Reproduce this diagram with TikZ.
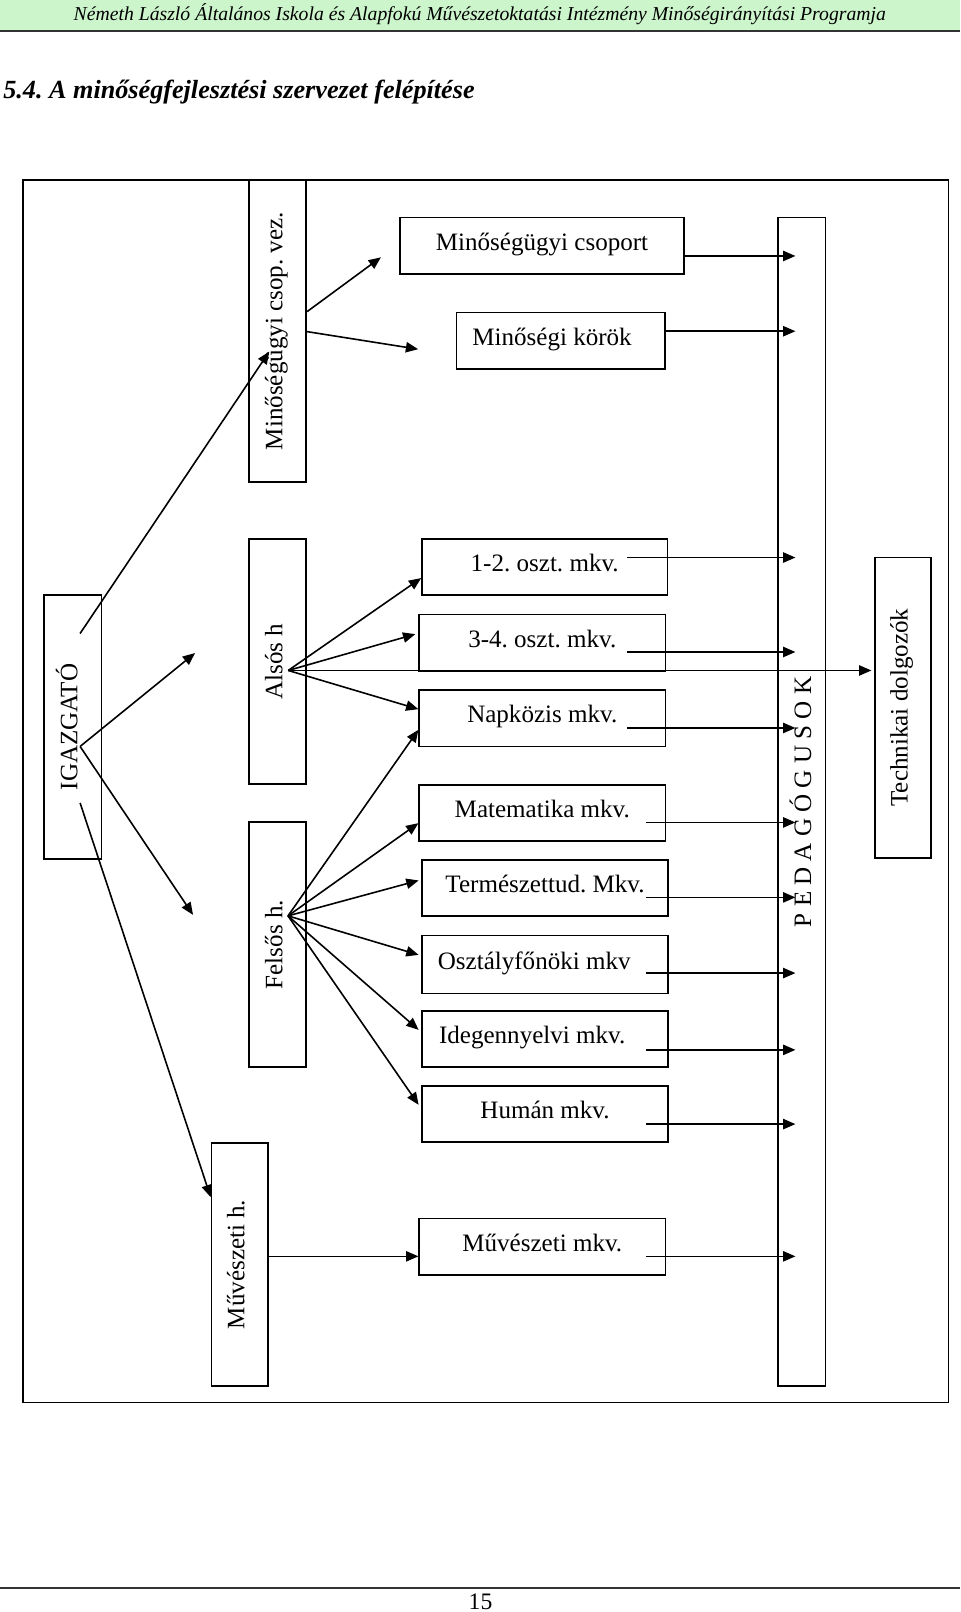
\documentclass[tikz,border=0pt]{standalone}
\usepackage{fontspec}
\setmainfont{Liberation Serif}
\usetikzlibrary{arrows.meta,calc}
\definecolor{hdrgreen}{RGB}{204,245,204}
\frenchspacing
\begin{document}
\begin{tikzpicture}[x=1pt,y=-1pt,
  box/.style={draw, line width=1.6pt, inner sep=0pt, text height=16pt, text depth=7pt, font=\fontsize{24.4}{29}\selectfont},
  vbox/.style={box, rotate=90},
  arr/.style={line width=1.55pt, -{Triangle[length=12pt,width=10pt]}},
  rule/.style={line width=1.8pt, black!80}
]
\useasboundingbox (0,0) rectangle (935,1570);
\fill[white] (0,0) rectangle (935,1570);

% header and footer
\fill[hdrgreen] (0,0) rectangle (935,29);
\draw[rule] (0,29.8) -- (935,29.8);
\node[anchor=base, inner sep=0pt] (hdr) at (467.3,20) {\resizebox{791pt}{!}{\itshape Németh László Általános Iskola és Alapfokú Művészetoktatási Intézmény Minőségirányítási Programja}};
\node[anchor=base west, inner sep=0pt] (title) at (3,96.4) {\resizebox{459pt}{!}{\bfseries\itshape 5.4. A minőségfejlesztési szervezet felépítése}};
\draw[rule] (0,1546.6) -- (935,1546.6);
\node[anchor=base, inner sep=0pt, font=\fontsize{23}{27}\selectfont] (pnum) at (468,1567.6) {15};

% frame
\draw[line width=1.6pt] (22.5,175.3) rectangle (923.7,1366);

% vertical boxes
\node[vbox, minimum width=294.3pt, minimum height=55.5pt] (csopvez) at (270.55,322.45) {Minőségügyi csop. vez.};
\node[vbox, minimum width=1138pt, minimum height=46pt, text height=25pt] (ped) at (781,781) {P E D A G Ó G U S O K};
\node[vbox, minimum width=292.5pt, minimum height=54pt] (tech) at (879.5,689.25) {Technikai dolgozók};
\node[vbox, minimum width=257.3pt, minimum height=55.9pt] (igazgato) at (70.75,708) {IGAZGATÓ};
\node[vbox, minimum width=238.9pt, minimum height=55.5pt] (also) at (270.55,644.25) {Alsós h};
\node[vbox, minimum width=238.8pt, minimum height=55.5pt] (felso) at (270.55,920.1) {Felsős h.};
\node[vbox, minimum width=237pt, minimum height=55pt] (muv) at (233.5,1231.5) {Művészeti h.};

% horizontal boxes
\node[box, minimum width=276.2pt, minimum height=55pt] (csoport) at (527.9,239.5) {Minőségügyi csoport};
\node[box, minimum width=203.1pt, minimum height=54.9pt] (korok) at (546.15,331.85) {Minőségi körök\rule{17pt}{0pt}};
\node[box, minimum width=239pt, minimum height=54.6pt] (b12) at (530.5,552.1) {1-2. oszt. mkv.};
\node[box, minimum width=239.7pt, minimum height=54.9pt] (b34) at (528.15,625.95) {3-4. oszt. mkv.};
\node[box, minimum width=239.7pt, minimum height=54.8pt] (napk) at (528.15,699.6) {Napközis mkv.};
\node[box, minimum width=239.7pt, minimum height=54.4pt] (mat) at (528.15,791.8) {Matematika mkv.};
\node[box, minimum width=239.6pt, minimum height=54.3pt] (term) at (530.8,864.85) {Természettud. Mkv.};
\node[box, minimum width=239.6pt, minimum height=56.5pt] (oszt) at (530.8,939.25) {Osztályfőnöki mkv\rule{21pt}{0pt}};
\node[box, minimum width=239.6pt, minimum height=54.8pt] (ideg) at (530.8,1012.1) {Idegennyelvi mkv.\rule{25pt}{0pt}};
\node[box, minimum width=239.6pt, minimum height=54pt] (human) at (530.8,1085) {Humán mkv.};
\node[box, minimum width=239.7pt, minimum height=55.2pt] (muvmkv) at (528.15,1214.2) {Művészeti mkv.};

% helper coordinates
\coordinate (pedin) at ([xshift=17.5pt]ped.north);
\coordinate (ig1) at (78,617);
\coordinate (ig2) at (78,727);
\coordinate (ig3) at (78,782);
\coordinate (igA) at (190,636);
\coordinate (igB) at (188,891);
\coordinate (cvA) at (371,250.6);
\coordinate (cvB) at (407.3,340.1);
\coordinate (alsoS) at (280.7,653);
\coordinate (felsoS) at (280.5,892);

% IGAZGATO arrows
\draw[arr] (ig1) -- ($(csopvez.center)+(-8.3,20)$);
\draw[arr] (ig2) -- (igA);
\draw[arr] (ig2) -- (igB);
\draw[arr] (ig3) -- (muv.north |- 0,1166);

% csop. vez. arrows
\draw[arr] (csopvez.south |- 0,303.5) -- (cvA);
\draw[arr] (csopvez.south |- 0,323) -- (cvB);

% Alsos arrows
\draw[arr] (alsoS) -- (b12.west |- 0,563);
\draw[arr] (alsoS) -- ([xshift=-3pt]b34.west |- 0,617.6);
\draw[arr] (alsoS) -- ([xshift=-3pt]tech.north |- alsoS);
\draw[arr] (alsoS) -- (napk.west |- 0,690.7);

% Felsos arrows
\draw[arr] (felsoS) -- (napk.west |- 0,710.8);
\draw[arr] (felsoS) -- (mat.west |- 0,801.7);
\draw[arr] (felsoS) -- ([xshift=-2.5pt]term.west |- 0,857.5);
\draw[arr] (felsoS) -- ([xshift=-2.5pt]oszt.west |- 0,930);
\draw[arr] (felsoS) -- ([xshift=-2.5pt]ideg.west |- 0,1003);
\draw[arr] (felsoS) -- ([xshift=-2.5pt]human.west |- 0,1076);

% Muveszeti
\draw[arr] (muv.south |- 0,1223.6) -- (muvmkv.west |- 0,1223.6);

% to PEDAGOGUSOK
\draw[arr] (csoport.east |- 0,249.3) -- (pedin |- 0,249.3);
\draw[arr] (korok.east |- 0,322.6) -- (pedin |- 0,322.6);
\draw[arr] ([xshift=-40pt]b12.east |- 0,543) -- (pedin |- 0,543);
\draw[arr] ([xshift=-38pt]b34.east |- 0,635) -- (pedin |- 0,635);
\draw[arr] ([xshift=-38pt]napk.east |- 0,709) -- (pedin |- 0,709);
\draw[arr] ([xshift=-19.5pt]mat.east |- 0,801) -- (pedin |- 0,801);
\draw[arr] ([xshift=-22pt]term.east |- 0,874) -- (pedin |- 0,874);
\draw[arr] ([xshift=-22pt]oszt.east |- 0,947.7) -- (pedin |- 0,947.7);
\draw[arr] ([xshift=-22pt]ideg.east |- 0,1022.5) -- (pedin |- 0,1022.5);
\draw[arr] ([xshift=-22pt]human.east |- 0,1094.8) -- (pedin |- 0,1094.8);
\draw[arr] ([xshift=-19.5pt]muvmkv.east |- 0,1223.6) -- (pedin |- 0,1223.6);
\end{tikzpicture}
\end{document}
